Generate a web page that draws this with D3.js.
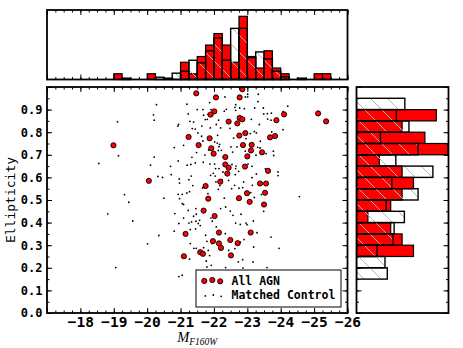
<!DOCTYPE html>
<html>
<head>
<meta charset="utf-8">
<script src="https://cdn.jsdelivr.net/npm/d3@7"></script>
<style>
  body { margin: 0; background: #fff; }
</style>
</head>
<body>
<svg id="chart" width="463" height="348"></svg>
<script>
// AGN hosts: [M_F160W, ellipticity]
const agnPoints = [
  [-21.47, 0.972], [-22.06, 0.954], [-22.85, 0.990], [-22.77, 0.954], [-22.01, 0.892], [-21.90, 0.878],
  [-22.77, 0.863], [-22.85, 0.857], [-22.44, 0.847], [-22.70, 0.839], [-21.24, 0.779], [-21.87, 0.773],
  [-22.76, 0.785], [-22.94, 0.796], [-21.54, 0.743], [-21.92, 0.729], [-22.87, 0.743], [-23.13, 0.744],
  [-23.11, 0.719], [-21.99, 0.705], [-22.34, 0.690], [-23.00, 0.693], [-22.34, 0.657], [-22.44, 0.643],
  [-22.93, 0.648], [-22.40, 0.617], [-22.19, 0.581], [-21.75, 0.562], [-22.99, 0.530], [-22.75, 0.508],
  [-21.83, 0.506], [-25.12, 0.883], [-25.36, 0.848], [-24.10, 0.879], [-23.87, 0.853], [-23.83, 0.783],
  [-23.68, 0.777], [-23.44, 0.711], [-23.62, 0.629], [-23.38, 0.573], [-23.56, 0.573], [-23.53, 0.532],
  [-18.99, 0.742], [-20.05, 0.585], [-23.07, 0.492], [-23.50, 0.480], [-21.69, 0.453], [-22.02, 0.429],
  [-21.15, 0.350], [-22.15, 0.356], [-23.10, 0.356], [-21.97, 0.318], [-22.15, 0.308], [-22.49, 0.323],
  [-22.71, 0.309], [-22.21, 0.288], [-21.59, 0.269], [-21.67, 0.262], [-21.10, 0.251], [-22.51, 0.255]
];

// matched control galaxies: [M_F160W, ellipticity]
const controlPoints = [
  [-20.28, 0.922], [-19.11, 0.846], [-20.19, 0.877], [-20.21, 0.853], [-19.14, 0.696], [-18.55, 0.662],
  [-20.21, 0.690], [-20.10, 0.654], [-20.32, 0.604], [-20.46, 0.600], [-19.32, 0.524], [-19.45, 0.490],
  [-20.50, 0.508], [-18.82, 0.439], [-19.57, 0.407], [-20.35, 0.343], [-20.01, 0.306], [-19.06, 0.201],
  [-20.70, 0.649], [-20.72, 0.612], [-20.93, 0.673], [-20.81, 0.732], [-20.92, 0.827], [-20.94, 0.834],
  [-21.19, 0.924], [-21.23, 0.881], [-21.50, 0.900], [-21.28, 0.848], [-21.39, 0.845], [-21.35, 0.816],
  [-21.44, 0.814], [-21.52, 0.797], [-21.09, 0.742], [-21.34, 0.689], [-21.48, 0.710], [-21.31, 0.657],
  [-21.44, 0.664], [-21.20, 0.654], [-21.32, 0.606], [-21.25, 0.590], [-20.97, 0.575], [-20.96, 0.593],
  [-21.27, 0.537], [-21.19, 0.531], [-21.63, 0.782], [-21.67, 0.761], [-21.69, 0.875], [-21.67, 0.900],
  [-21.82, 0.879], [-21.80, 0.857], [-21.87, 0.931], [-21.91, 0.900], [-21.74, 0.856], [-21.64, 0.827],
  [-21.89, 0.819], [-22.07, 0.834], [-22.14, 0.853], [-22.31, 0.893], [-22.33, 0.956], [-22.37, 0.901],
  [-22.20, 0.819], [-22.11, 0.786], [-22.02, 0.757], [-22.10, 0.752], [-22.17, 0.746], [-22.15, 0.736],
  [-22.22, 0.720], [-22.13, 0.719], [-21.84, 0.721], [-21.73, 0.699], [-21.68, 0.667], [-21.88, 0.659],
  [-22.02, 0.659], [-22.05, 0.639], [-22.15, 0.639], [-21.98, 0.618], [-21.90, 0.609], [-22.04, 0.606],
  [-22.06, 0.580], [-22.18, 0.564], [-22.13, 0.547], [-21.82, 0.528], [-21.66, 0.553], [-22.56, 0.712],
  [-22.51, 0.735], [-22.69, 0.735], [-22.59, 0.774], [-22.48, 0.817], [-22.63, 0.910], [-22.65, 0.897],
  [-22.65, 0.922], [-22.77, 0.907], [-22.91, 0.904], [-22.94, 0.956], [-23.01, 0.956], [-23.01, 0.968],
  [-23.12, 0.857], [-23.09, 0.794], [-22.96, 0.772], [-22.94, 0.716], [-23.05, 0.698], [-23.02, 0.659],
  [-22.65, 0.639], [-22.74, 0.627], [-22.64, 0.612], [-22.66, 0.650], [-22.54, 0.657], [-22.27, 0.624],
  [-22.24, 0.590], [-22.44, 0.587], [-22.62, 0.565], [-22.75, 0.552], [-22.53, 0.550], [-22.89, 0.580],
  [-22.86, 0.555], [-22.96, 0.533], [-23.22, 0.907], [-23.33, 0.968], [-23.48, 0.907], [-23.36, 0.834],
  [-23.31, 0.733], [-23.38, 0.730], [-23.26, 0.698], [-23.14, 0.649], [-23.27, 0.615], [-23.15, 0.565],
  [-23.10, 0.533], [-23.60, 0.882], [-23.71, 0.853], [-23.73, 0.801], [-23.78, 0.716], [-23.79, 0.697],
  [-23.92, 0.624], [-23.92, 0.608], [-24.07, 0.891], [-24.07, 0.811], [-24.21, 0.915], [-23.54, 0.638],
  [-23.56, 0.705], [-23.32, 0.935], [-23.72, 0.884], [-23.49, 0.881], [-23.61, 0.858], [-23.21, 0.803],
  [-23.27, 0.797], [-23.39, 0.760], [-23.14, 0.599], [-23.42, 0.524], [-23.21, 0.511], [-24.56, 0.515],
  [-20.93, 0.525], [-21.05, 0.525], [-20.97, 0.506], [-21.05, 0.484], [-21.09, 0.480], [-21.23, 0.454],
  [-21.46, 0.462], [-21.39, 0.428], [-21.47, 0.437], [-20.83, 0.440], [-20.95, 0.396], [-21.25, 0.398],
  [-21.33, 0.403], [-21.46, 0.406], [-21.53, 0.396], [-21.57, 0.410], [-21.29, 0.369], [-21.45, 0.372],
  [-21.59, 0.387], [-20.81, 0.362], [-21.29, 0.307], [-21.40, 0.286], [-21.27, 0.238], [-21.47, 0.286],
  [-21.75, 0.344], [-21.79, 0.317], [-21.69, 0.289], [-21.83, 0.277], [-21.77, 0.230], [-21.79, 0.204],
  [-21.87, 0.254], [-21.94, 0.307], [-21.95, 0.406], [-21.91, 0.420], [-22.07, 0.381], [-22.31, 0.508],
  [-22.35, 0.469], [-22.20, 0.462], [-22.49, 0.451], [-22.57, 0.432], [-22.81, 0.437], [-22.65, 0.398],
  [-22.79, 0.392], [-22.96, 0.398], [-23.18, 0.407], [-22.99, 0.391], [-22.34, 0.351], [-22.44, 0.277],
  [-22.63, 0.285], [-22.79, 0.314], [-22.90, 0.325], [-22.73, 0.226], [-22.86, 0.236], [-23.17, 0.226],
  [-23.19, 0.292], [-22.35, 0.201], [-21.05, 0.167], [-20.95, 0.161], [-22.87, 0.199], [-23.29, 0.355],
  [-23.71, 0.336], [-23.95, 0.286], [-23.49, 0.450], [-23.59, 0.201], [-21.09, 0.420], [-21.92, 0.211],
  [-21.37, 0.564]
];

// magnitude histogram, bins of 0.25 mag: [bright-side edge, height]
const MAG_BIN = 0.25;
const agnMagHist = [
  [-19.0, 1], [-20.0, 1], [-21.0, 3], [-21.25, 1], [-21.5, 4], [-21.75, 6], [-22.0, 8], [-22.25, 6],
  [-22.5, 3], [-22.75, 11], [-23.0, 4], [-23.25, 2], [-23.5, 5], [-23.75, 2], [-24.0, 1], [-25.0, 1], [-25.25, 1]
];
const controlMagHist = [
  [-19.25, 0.23], [-20.25, 0.4], [-20.5, 0.23], [-20.75, 1.1], [-21.0, 1.45], [-21.25, 3.35], [-21.5, 2.9],
  [-21.75, 5.0], [-22.0, 7.25], [-22.25, 3.35], [-22.5, 8.9], [-22.75, 8.9], [-23.0, 3.8], [-23.25, 4.8],
  [-23.5, 3.6], [-23.75, 1.45], [-24.0, 0.47], [-24.5, 0.23]
];

// ellipticity histogram, bins of 0.05: [lower edge, height]
const ELL_BIN = 0.05;
const agnEllHist = [
  [0.85, 7], [0.80, 4], [0.75, 6], [0.70, 8], [0.65, 2], [0.60, 4], [0.55, 5],
  [0.50, 4], [0.45, 3], [0.40, 1], [0.35, 3], [0.30, 4], [0.25, 5]
];
const controlEllHist = [
  [0.90, 4.24], [0.85, 3.5], [0.80, 4.6], [0.75, 2.1], [0.70, 5.4], [0.65, 3.45], [0.60, 6.7], [0.55, 3.1],
  [0.50, 5.4], [0.45, 2.6], [0.40, 4.2], [0.35, 3.3], [0.30, 3.2], [0.25, 1.8], [0.20, 2.5], [0.15, 2.7]
];

const magMajorTicks = [-17, -18, -19, -20, -21, -22, -23, -24, -25, -26];
const ellMajorTicks = [0, 0.1, 0.2, 0.3, 0.4, 0.5, 0.6, 0.7, 0.8, 0.9, 1.0];
const legendLabels = ['All AGN', 'Matched Control'];

const MONO = "'DejaVu Sans Mono', monospace";
const AGN_RED = '#ff0000';

const main = { left: 47, right: 347.5, top: 87, bottom: 313 };
const topPanel = { top: 10, bottom: 79.5 };
const sidePanel = { left: 356.5, right: 448.5 };

const svg = d3.select('#chart');

const x = d3.scaleLinear().domain([-17, -26]).range([main.left, main.right]);
const y = d3.scaleLinear().domain([0, 1]).range([main.bottom, main.top]);
const yTop = d3.scaleLinear().domain([0, 12.1]).range([topPanel.bottom, topPanel.top]);
const xSide = d3.scaleLinear().domain([0, 8.07]).range([sidePanel.left, sidePanel.right]);

const magMinorTicks = d3.range(-17, -26.001, -MAG_BIN);
const ellMinorTicks = d3.range(0, 1.0001, ELL_BIN);

// hatch used for the control histograms
const HATCH = 17;
const defs = svg.append('defs');
defs.append('pattern')
  .attr('id', 'hatch')
  .attr('patternUnits', 'userSpaceOnUse')
  .attr('width', HATCH)
  .attr('height', HATCH)
  .append('path')
  .attr('d', `M-1,-1L${HATCH + 1},${HATCH + 1}M-4,${HATCH - 4}L4,${HATCH + 4}M${HATCH - 4},-4L${HATCH + 4},4`)
  .attr('stroke', '#b4b4b4')
  .attr('stroke-width', 1);

defs.append('clipPath').attr('id', 'side-clip')
  .append('rect')
  .attr('x', sidePanel.left).attr('y', main.top)
  .attr('width', sidePanel.right - sidePanel.left).attr('height', main.bottom - main.top);

// ---- top histogram ----
const topG = svg.append('g').attr('class', 'hist-top');

topG.selectAll('rect.agn')
  .data(agnMagHist)
  .join('rect')
  .attr('class', 'agn')
  .attr('x', (d) => x(d[0]))
  .attr('width', (d) => x(d[0] - MAG_BIN) - x(d[0]))
  .attr('y', (d) => yTop(d[1]))
  .attr('height', (d) => yTop(0) - yTop(d[1]))
  .attr('fill', AGN_RED)
  .attr('stroke', '#000')
  .attr('stroke-width', 1.2);

topG.selectAll('rect.control')
  .data(controlMagHist)
  .join('rect')
  .attr('class', 'control')
  .attr('x', (d) => x(d[0]))
  .attr('width', (d) => x(d[0] - MAG_BIN) - x(d[0]))
  .attr('y', (d) => yTop(d[1]))
  .attr('height', (d) => yTop(0) - yTop(d[1]))
  .attr('fill', 'url(#hatch)')
  .attr('stroke', '#000')
  .attr('stroke-width', 1.4);

// ---- side histogram ----
const sideG = svg.append('g').attr('class', 'hist-side').attr('clip-path', 'url(#side-clip)');

sideG.selectAll('rect.agn')
  .data(agnEllHist)
  .join('rect')
  .attr('class', 'agn')
  .attr('x', xSide(0))
  .attr('width', (d) => xSide(d[1]) - xSide(0))
  .attr('y', (d) => y(d[0] + ELL_BIN))
  .attr('height', (d) => y(d[0]) - y(d[0] + ELL_BIN))
  .attr('fill', AGN_RED)
  .attr('stroke', '#000')
  .attr('stroke-width', 1.2);

sideG.selectAll('rect.control')
  .data(controlEllHist)
  .join('rect')
  .attr('class', 'control')
  .attr('x', xSide(0))
  .attr('width', (d) => xSide(d[1]) - xSide(0))
  .attr('y', (d) => y(d[0] + ELL_BIN))
  .attr('height', (d) => y(d[0]) - y(d[0] + ELL_BIN))
  .attr('fill', 'url(#hatch)')
  .attr('stroke', '#000')
  .attr('stroke-width', 1.4);

// ---- scatter ----
const scatterG = svg.append('g').attr('class', 'scatter');

scatterG.selectAll('circle.control')
  .data(controlPoints)
  .join('circle')
  .attr('class', 'control')
  .attr('cx', (d) => x(d[0]))
  .attr('cy', (d) => y(d[1]))
  .attr('r', 0.9)
  .attr('fill', '#000');

scatterG.selectAll('circle.agn')
  .data(agnPoints)
  .join('circle')
  .attr('class', 'agn')
  .attr('cx', (d) => x(d[0]))
  .attr('cy', (d) => y(d[1]))
  .attr('r', 2.6)
  .attr('fill', AGN_RED)
  .attr('stroke', '#000')
  .attr('stroke-width', 0.9);

// ---- ticks (all pointing inward) ----
function tickLayer(axis, transform, fontSize = 12) {
  const g = svg.append('g').attr('transform', transform).call(axis);
  g.select('.domain').remove();
  g.selectAll('line').attr('stroke', '#000').attr('stroke-width', 1);
  g.attr('font-family', MONO).attr('font-size', fontSize).attr('font-weight', 'bold');
  g.selectAll('text').attr('fill', '#000');
  return g;
}

const MAJOR = 5;
const MINOR = 2.5;
const magLabel = (d) => (d === -17 ? '' : d3.format('d')(d));
const ellLabel = (d) => (d >= 1 ? '' : d3.format('.1f')(d));

// main plot
tickLayer(d3.axisBottom(x).tickValues(magMinorTicks).tickSize(-MINOR).tickFormat(''), `translate(0,${main.bottom})`);
tickLayer(d3.axisBottom(x).tickValues(magMajorTicks).tickSize(-MAJOR).tickPadding(4).tickFormat(magLabel), `translate(0,${main.bottom})`, 14.5);
tickLayer(d3.axisTop(x).tickValues(magMinorTicks).tickSize(-MINOR).tickFormat(''), `translate(0,${main.top})`);
tickLayer(d3.axisTop(x).tickValues(magMajorTicks).tickSize(-MAJOR).tickFormat(''), `translate(0,${main.top})`);
tickLayer(d3.axisLeft(y).tickValues(ellMinorTicks).tickSize(-MINOR).tickFormat(''), `translate(${main.left},0)`);
tickLayer(d3.axisLeft(y).tickValues(ellMajorTicks).tickSize(-MAJOR).tickPadding(4.5).tickFormat(ellLabel), `translate(${main.left},0)`);
tickLayer(d3.axisRight(y).tickValues(ellMinorTicks).tickSize(-MINOR).tickFormat(''), `translate(${main.right},0)`);
tickLayer(d3.axisRight(y).tickValues(ellMajorTicks).tickSize(-MAJOR).tickFormat(''), `translate(${main.right},0)`);

// top histogram
tickLayer(d3.axisBottom(x).tickValues(magMinorTicks).tickSize(-MINOR).tickFormat(''), `translate(0,${topPanel.bottom})`);
tickLayer(d3.axisBottom(x).tickValues(magMajorTicks).tickSize(-MAJOR).tickFormat(''), `translate(0,${topPanel.bottom})`);
tickLayer(d3.axisTop(x).tickValues(magMinorTicks).tickSize(-MINOR).tickFormat(''), `translate(0,${topPanel.top})`);
tickLayer(d3.axisTop(x).tickValues(magMajorTicks).tickSize(-MAJOR).tickFormat(''), `translate(0,${topPanel.top})`);

// side histogram
tickLayer(d3.axisLeft(y).tickValues(ellMinorTicks).tickSize(-MINOR).tickFormat(''), `translate(${sidePanel.left},0)`);
tickLayer(d3.axisLeft(y).tickValues(ellMajorTicks).tickSize(-MAJOR).tickFormat(''), `translate(${sidePanel.left},0)`);
tickLayer(d3.axisRight(y).tickValues(ellMinorTicks).tickSize(-MINOR).tickFormat(''), `translate(${sidePanel.right},0)`);
tickLayer(d3.axisRight(y).tickValues(ellMajorTicks).tickSize(-MAJOR).tickFormat(''), `translate(${sidePanel.right},0)`);

// ---- frames ----
const frames = [
  [main.left, main.top, main.right, main.bottom],
  [main.left, topPanel.top, main.right, topPanel.bottom],
  [sidePanel.left, main.top, sidePanel.right, main.bottom]
];
svg.append('g').selectAll('rect')
  .data(frames)
  .join('rect')
  .attr('x', (d) => d[0])
  .attr('y', (d) => d[1])
  .attr('width', (d) => d[2] - d[0])
  .attr('height', (d) => d[3] - d[1])
  .attr('fill', 'none')
  .attr('stroke', '#000')
  .attr('stroke-width', 1.8);

// ---- axis titles ----
svg.append('text')
  .attr('transform', `translate(15,${(main.top + main.bottom) / 2}) rotate(-90)`)
  .attr('text-anchor', 'middle')
  .attr('font-family', MONO)
  .attr('font-size', 13)
  .text('Ellipticity');

const xTitle = svg.append('text')
  .attr('x', (main.left + main.right) / 2)
  .attr('y', 342)
  .attr('text-anchor', 'middle')
  .attr('font-family', "'Liberation Serif', 'DejaVu Serif', serif")
  .attr('font-style', 'italic');
xTitle.append('tspan').attr('font-size', 14.5).text('M');
xTitle.append('tspan').attr('font-size', 9.5).attr('dy', 3).text('F160W');

// ---- legend ----
const legend = svg.append('g').attr('class', 'legend');
legend.append('rect')
  .attr('x', 196).attr('y', 270)
  .attr('width', 145).attr('height', 37)
  .attr('fill', '#fff')
  .attr('stroke', '#000')
  .attr('stroke-width', 1);

const markerOffsets = [0.9, 0, 1.3];
const markerX = [204.3, 212.3, 220.2];

legend.selectAll('circle.agn')
  .data(markerOffsets)
  .join('circle')
  .attr('class', 'agn')
  .attr('cx', (d, i) => markerX[i])
  .attr('cy', (d) => 280 + d)
  .attr('r', 2.6)
  .attr('fill', AGN_RED)
  .attr('stroke', '#000')
  .attr('stroke-width', 0.9);

legend.selectAll('circle.control')
  .data(markerOffsets)
  .join('circle')
  .attr('class', 'control')
  .attr('cx', (d, i) => markerX[i] + 1)
  .attr('cy', (d) => 295 + d)
  .attr('r', 0.9)
  .attr('fill', '#000');

legend.selectAll('text')
  .data(legendLabels)
  .join('text')
  .attr('x', 231.5)
  .attr('y', (d, i) => 284.5 + i * 14.5)
  .attr('font-family', MONO)
  .attr('font-size', 11.5)
  .attr('font-weight', 'bold')
  .text((d) => d);
</script>
</body>
</html>
